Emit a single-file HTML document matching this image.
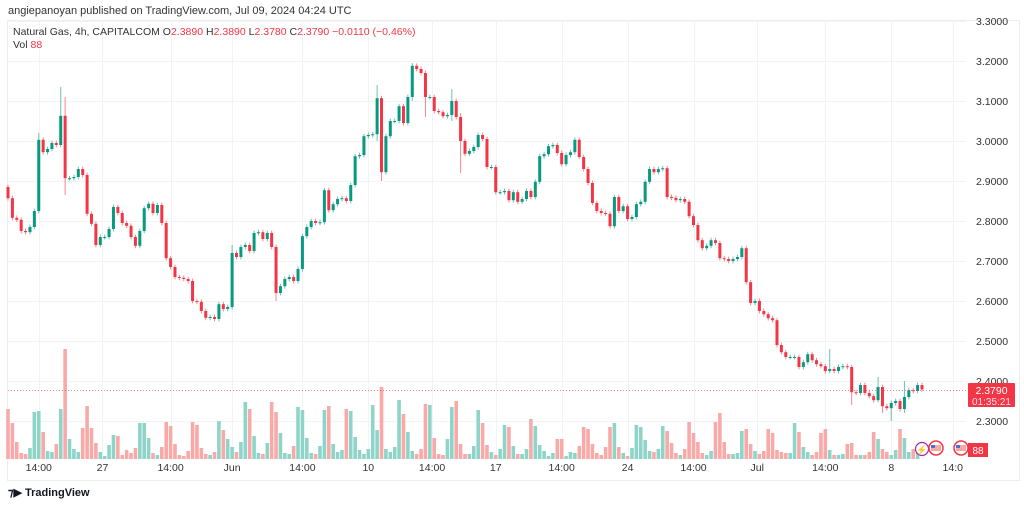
<!DOCTYPE html>
<html><head><meta charset="utf-8"><style>
html,body{margin:0;padding:0;background:#fff;width:1024px;height:505px;overflow:hidden;font-family:"Liberation Sans",sans-serif}
svg text{font-family:"Liberation Sans",sans-serif}
</style></head><body>
<svg id="chart" width="1024" height="505" viewBox="0 0 1024 505" xmlns="http://www.w3.org/2000/svg">
<text x="8" y="14" font-size="11" fill="#333">angiepanoyan published on TradingView.com, Jul 09, 2024 04:24 UTC</text>
<rect x="7.5" y="20.5" width="1012" height="460" fill="none" stroke="#eceef2"/>
<g id="grid"></g>
<g id="vol"></g>
<g id="candles"></g>
<line x1="8" x2="966" y1="390.5" y2="390.5" stroke="#f23645" stroke-opacity="0.6" stroke-dasharray="1,2"/>
<g id="paxis"></g>
<g id="taxis"></g>
<g font-size="10.5">
<text x="13" y="35" fill="#333">Natural Gas, 4h, CAPITALCOM <tspan fill="#333">O</tspan><tspan fill="#f23645">2.3890</tspan> <tspan fill="#333">H</tspan><tspan fill="#f23645">2.3890</tspan> <tspan fill="#333">L</tspan><tspan fill="#f23645">2.3780</tspan> <tspan fill="#333">C</tspan><tspan fill="#f23645">2.3790</tspan> <tspan fill="#f23645">−0.0110 (−0.46%)</tspan></text>
<text x="13" y="48" fill="#333">Vol <tspan fill="#f23645">88</tspan></text>
</g>
<g>
<rect x="968" y="383" width="47" height="24" rx="1" fill="#f23645"/>
<text x="991.5" y="394" font-size="10.5" fill="#fff" text-anchor="middle">2.3790</text>
<text x="991.5" y="405" font-size="10" fill="#fde" text-anchor="middle">01:35:21</text>
</g>
<g>
<circle cx="922" cy="449" r="6.5" fill="#fff" stroke="#9c27b0" stroke-width="1.2"/>
<text x="922" y="453" font-size="9" fill="#9c27b0" text-anchor="middle">⚡</text>
<circle cx="936" cy="448" r="7" fill="#fff" stroke="#f23645" stroke-width="1.5"/>
<rect x="931" y="445" width="10" height="6" fill="#f7a9a7"/><rect x="931" y="445" width="4" height="3" fill="#4a6fd0"/>
<circle cx="961" cy="448" r="7" fill="#fff" stroke="#f23645" stroke-width="1.5"/>
<rect x="956" y="445" width="10" height="6" fill="#f7a9a7"/><rect x="956" y="445" width="4" height="3" fill="#4a6fd0"/>
</g>
<g>
<rect x="968" y="443" width="20" height="14" fill="#f23645"/>
<text x="978" y="454" font-size="10" fill="#fff" text-anchor="middle">88</text>
</g>
<g>
<text x="8" y="496" font-size="11" font-weight="bold" fill="#131722">⁊▶</text>
<text x="25" y="496" font-size="11" font-weight="bold" fill="#131722">TradingView</text>
</g>
</svg>
<script>
const closes=[2.857,2.808,2.803,2.775,2.772,2.785,2.825,3.003,2.972,2.98,2.995,2.99,3.063,2.907,2.907,2.91,2.93,2.915,2.818,2.793,2.74,2.76,2.76,2.78,2.835,2.82,2.795,2.788,2.76,2.738,2.775,2.832,2.843,2.82,2.84,2.795,2.707,2.685,2.66,2.658,2.655,2.65,2.6,2.598,2.575,2.558,2.56,2.555,2.592,2.58,2.585,2.72,2.71,2.735,2.74,2.725,2.77,2.772,2.755,2.77,2.735,2.62,2.637,2.655,2.66,2.65,2.68,2.762,2.785,2.8,2.795,2.797,2.877,2.827,2.842,2.855,2.857,2.85,2.89,2.962,2.965,3.012,3.015,3.017,3.107,2.922,3.012,3.05,3.05,3.087,3.045,3.11,3.188,3.18,3.17,3.11,3.11,3.075,3.072,3.062,3.065,3.1,3.06,3.0,2.968,2.975,2.985,3.015,3.005,2.935,2.935,2.872,2.872,2.875,2.852,2.872,2.848,2.855,2.875,2.86,2.898,2.962,2.967,2.987,2.99,2.97,2.942,2.965,2.972,3.003,2.96,2.93,2.895,2.845,2.825,2.82,2.818,2.787,2.86,2.825,2.837,2.805,2.81,2.842,2.848,2.898,2.93,2.922,2.93,2.932,2.86,2.858,2.852,2.855,2.848,2.812,2.79,2.752,2.732,2.738,2.752,2.745,2.707,2.705,2.7,2.705,2.71,2.732,2.647,2.595,2.6,2.575,2.567,2.557,2.552,2.49,2.472,2.46,2.46,2.46,2.435,2.447,2.467,2.452,2.442,2.437,2.425,2.43,2.425,2.435,2.437,2.435,2.372,2.37,2.39,2.37,2.362,2.352,2.385,2.337,2.332,2.345,2.35,2.33,2.36,2.377,2.375,2.39,2.379];
const firstOpen=2.885;
const spikeIdx=[7,12,13,51,61,84,85,92,95,101,103,187,192,198,199,201,204];
const spikeHigh=[3.02,3.135,3.11,2.74,2.64,3.14,3.03,3.195,3.16,3.13,3.07,2.48,2.44,2.41,2.39,2.35,2.4];
const spikeLow=[2.82,3.05,2.865,2.58,2.6,3.0,2.9,3.1,3.06,3.05,2.92,2.42,2.34,2.37,2.32,2.3,2.32];
const volumes=[50,36,17,6,5,11,47,48,27,8,7,15,50,110,20,10,7,31,53,31,16,7,3,14,24,23,4,9,6,11,36,36,21,6,4,12,37,33,15,4,3,8,37,34,11,5,4,7,38,29,20,12,7,17,57,50,23,6,5,16,57,47,26,6,5,13,52,49,21,6,5,13,49,53,15,7,9,50,48,22,9,5,10,54,29,72,10,7,12,59,45,27,8,5,10,55,54,21,5,4,20,52,58,15,5,5,13,49,36,14,7,4,10,34,32,13,5,5,10,40,33,14,8,3,6,20,20,3,7,6,13,32,30,15,6,4,12,32,36,12,6,3,11,34,32,19,8,7,10,33,28,16,6,4,10,37,26,17,6,4,8,37,46,17,5,5,6,28,30,15,8,5,8,30,26,9,7,6,6,36,27,12,7,4,7,26,30,9,4,4,5,15,16,4,4,4,7,27,20,10,7,4,9,30,21,7,10,7];
const priceTicks=[3.3,3.2,3.1,3.0,2.9,2.8,2.7,2.6,2.5,2.4,2.3];
const timeLabels=["14:00","27","14:00","Jun","14:00","10","14:00","17","14:00","24","14:00","Jul","14:00","8","14:0"];
const timeIdx=[7,21.5,37,51,67,82,96.5,111,126,141,156,170.5,186,201,215];

const NS="http://www.w3.org/2000/svg";
const X0=8,X1=922;
const step=(X1-X0)/(closes.length-1);
function xPos(i){return X0+i*step;}
function yPrice(p){return 61+(3.2-p)*400;}
function yVol(v){return 459-v;}
function mk(tag,attrs,parent){const e=document.createElementNS(NS,tag);for(const k in attrs)e.setAttribute(k,attrs[k]);parent.appendChild(e);return e;}

const grid=document.getElementById('grid');
priceTicks.forEach(p=>{const l=mk('line',{x1:8,x2:966,y1:yPrice(p)+0.5,y2:yPrice(p)+0.5,stroke:'#f2f3f5'},grid);

});
timeIdx.forEach(i=>{const x=Math.round(xPos(i))+0.5;const l=mk('line',{x1:x,x2:x,y1:21,y2:459,stroke:'#f2f3f5'},grid);

});

const pax=document.getElementById('paxis');
priceTicks.forEach(p=>{const t=mk('text',{x:976,y:yPrice(p)+4,'font-size':'10.5',fill:'#333'},pax);t.textContent=p.toFixed(4);

});
const tax=document.getElementById('taxis');
timeLabels.forEach((s,k)=>{const t=mk('text',{x:xPos(timeIdx[k]),y:471,'font-size':'10.5',fill:'#333','text-anchor':'middle'},tax);t.textContent=s;

});

const cg=document.getElementById('candles'),vg=document.getElementById('vol');
closes.forEach((c,i)=>{
  const o=i===0?firstOpen:closes[i-1];
  const up=c>=o;
  const col=up?'#089981':'#f23645';
  let hi=Math.max(o,c)+0.006,lo=Math.min(o,c)-0.006;
  const s=spikeIdx.indexOf(i);
  if(s>=0){hi=Math.max(hi,spikeHigh[s]);lo=Math.min(lo,spikeLow[s]);}
  const x=xPos(i);
  const w=mk('line',{x1:x,x2:x,y1:yPrice(hi),y2:yPrice(lo),stroke:col,'stroke-width':1,'stroke-opacity':0.6},cg);
  
  
  const yt=yPrice(Math.max(o,c)),yb=yPrice(Math.min(o,c));
  const b=mk('rect',{x:x-1.5,y:yt,width:3,height:Math.max(1,yb-yt),fill:col},cg);
  
  
  if(i<volumes.length){
    const v=volumes[i];
    const r=mk('rect',{x:x-1.8,y:yVol(v),width:3.6,height:v,fill:up?'#8fd4c8':'#f8aaa8'},vg);
    
    
  }
});
</script>
</body></html>
